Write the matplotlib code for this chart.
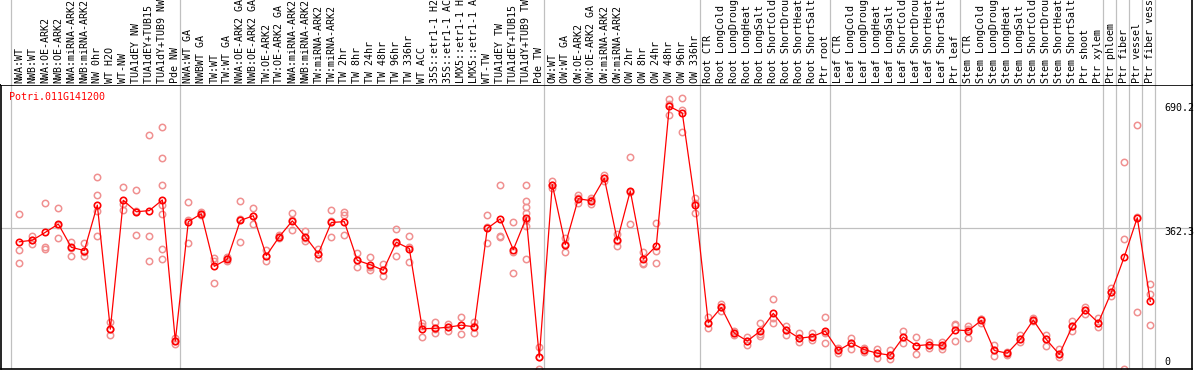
#!/usr/bin/python3

# expression.py
#
# Plot the expression profile of a single gene across the sample conditions.
import matplotlib
matplotlib.use('Agg')
import matplotlib.pyplot as plt

GENE = 'Potri.011G141200'

# Sample labels, in plot order
labels = [
  'NWA:WT', 'NWB:WT', 'NWA:OE-ARK2', 'NWB:OE-ARK2', 'NWA:miRNA-ARK2', 'NWB:miRNA-ARK2',
  'NW 0hr', 'WT H2O', 'WT-NW', 'TUA1dEY NW', 'TUA1dEY+TUB15 NW', 'TUA1dY+TUB9 NW', 'Pde NW',
  'NWA:WT GA', 'NWBWT GA', 'TW:WT', 'TW:WT GA', 'NWA:OE-ARK2 GA', 'NWB:OE-ARK2 GA',
  'TW:OE-ARK2', 'TW:OE-ARK2 GA', 'NWA:miRNA-ARK2', 'NWB:miRNA-ARK2', 'TW:miRNA-ARK2',
  'TW:miRNA-ARK2', 'TW 2hr', 'TW 8hr', 'TW 24hr', 'TW 48hr', 'TW 96hr', 'TW 336hr',
  'WT ACC', '35S::etr1-1 H2O', '35S::etr1-1 ACC', 'LMX5::etr1-1 H2O', 'LMX5::etr1-1 ACC',
  'WT-TW', 'TUA1dEY TW', 'TUA1dEY+TUB15 TW', 'TUA1dY+TUB9 TW', 'Pde TW',
  'OW:WT', 'OW:WT GA', 'OW:OE-ARK2', 'OW:OE-ARK2 GA', 'OW:miRNA-ARK2', 'OW:miRNA-ARK2',
  'OW 2hr', 'OW 8hr', 'OW 24hr', 'OW 48hr', 'OW 96hr', 'OW 336hr',
  'Root CTR', 'Root LongCold', 'Root LongDrought', 'Root LongHeat', 'Root LongSalt',
  'Root ShortCold', 'Root ShortDrought', 'Root ShortHeat', 'Root ShortSalt', 'Ptr root',
  'Leaf CTR', 'Leaf LongCold', 'Leaf LongDrought', 'Leaf LongHeat', 'Leaf LongSalt',
  'Leaf ShortCold', 'Leaf ShortDrought', 'Leaf ShortHeat', 'Leaf ShortSalt', 'Ptr leaf',
  'Stem CTR', 'Stem LongCold', 'Stem LongDrought', 'Stem LongHeat', 'Stem LongSalt',
  'Stem ShortCold', 'Stem ShortDrought', 'Stem ShortHeat', 'Stem ShortSalt', 'Ptr shoot',
  'Ptr xylem', 'Ptr phloem', 'Ptr fiber', 'Ptr vessel', 'Ptr fiber vessel']

# Mean expression per sample
means = [
  327, 331, 351, 372, 313, 305, 420, 106, 432, 403, 406, 433, 76,
  378, 398, 265, 283, 381, 393, 292, 340, 380, 340, 297, 376, 378, 280, 269, 255, 326, 310,
  107, 108, 111, 116, 112, 361, 385, 307, 388, 35,
  472, 320, 436, 431, 488, 331, 456, 283, 317, 670, 653, 421,
  122, 161, 96, 76, 101, 146, 104, 83, 87, 101,
  52, 71, 54, 45, 40, 86, 64, 67, 65, 104,
  102, 128, 52, 45, 80, 129, 80, 42, 113, 154,
  122, 199, 289, 388, 176]

# Individual replicates per sample
replicates = [
  [398, 306, 274], [341, 332, 322], [425, 315, 309], [413, 369, 336], [327, 312, 292],
  [325, 300, 290], [491, 446, 406, 341], [124, 106, 91], [466, 423, 408], [458, 405, 345],
  [597, 342, 278], [617, 539, 472, 420, 398, 310, 283], [84, 76, 68],
  [429, 381, 325], [402, 398, 394], [287, 279, 222], [288, 285, 278], [430, 386, 327],
  [413, 392, 373], [306, 292, 279], [344, 340, 336], [400, 383, 357], [354, 337, 329],
  [309, 297, 285], [408, 380, 340], [402, 394, 345], [298, 281, 262], [289, 264, 255],
  [270, 255, 241], [360, 325, 292], [341, 313, 277],
  [121, 113, 86], [123, 106, 96], [119, 112, 101], [136, 117, 94], [125, 115, 97],
  [395, 364, 323], [472, 341, 339], [378, 301, 247], [472, 431, 416, 400, 383, 367, 283],
  [62, 35, 6],
  [482, 470, 463], [337, 322, 300], [446, 438, 424], [438, 432, 423], [497, 488, 480],
  [346, 330, 316], [542, 452, 373], [300, 274, 270], [375, 304, 274], [688, 675, 649],
  [690, 660, 606], [438, 424, 401],
  [136, 121, 108], [170, 161, 151], [101, 96, 90], [86, 76, 65], [121, 93, 88],
  [182, 135, 121], [114, 104, 92], [96, 83, 73], [96, 87, 79], [136, 96, 71],
  [59, 52, 45], [84, 71, 55], [59, 54, 48], [55, 45, 34], [52, 40, 30],
  [101, 86, 71], [86, 64, 42], [73, 67, 59], [73, 64, 56], [117, 118, 77],
  [114, 107, 83], [132, 132, 121], [66, 52, 38], [48, 45, 41], [90, 80, 73],
  [134, 129, 126], [92, 80, 63], [55, 42, 35], [126, 113, 101], [163, 154, 144],
  [134, 122, 111], [211, 199, 190], [529, 333, 6], [622, 391, 150], [219, 195, 117]]

# Last sample of each group, a separator is drawn after it
group_ends = [-1, 12, 40, 52, 62, 72, 83, 84, 85, 86, 87]

# Axis markers shown on the right
yticks = [690.2, 362.3, 0]
midline = 362.3

FONT = 'DejaVu Sans Mono'
GRID = '#c0c0c0'


def main():
  W, H = 1194, 370
  figure = plt.figure(figsize=(W / 100, H / 100), dpi=100)

  # Pixel layout of the two panels
  left, right, top, split, bottom = 1, 1192, 0, 85, 369
  xlim = (-1.41, 90.21)

  plot = figure.add_axes([left / W, (H - bottom) / H, (right - left) / W, (bottom - split) / H])
  header = figure.add_axes([left / W, (H - split) / H, (right - left) / W, (split - top) / H])

  # Separators between the sample groups
  for ax in (plot, header):
    for end in group_ends:
      ax.axvline(end + 0.38, color=GRID, lw=0.9, zorder=1)
    ax.set_xlim(xlim)
    ax.set_xticks([])
    ax.set_yticks([])

  # Sample labels in the header, long ones run off the top as in the original
  header.set_ylim(0, 1)
  for spine in ('top', 'left', 'bottom'):
    header.spines[spine].set_visible(False)
  header.spines['right'].set_linewidth(1.2)
  for i, label in enumerate(labels):
    header.text(i, 2 / 85, label, rotation=90, ha='center', va='bottom',
                family=FONT, fontsize=7.2, color='black', clip_on=True)

  # Expression plot
  plot.set_ylim(5.1, 723.9)
  plot.axhline(midline, color=GRID, lw=0.9, zorder=1)
  for spine in plot.spines.values():
    spine.set_linewidth(1.2)

  for i, values in enumerate(replicates):
    plot.plot([i] * len(values), values, linestyle='none', marker='o', ms=4.6,
              mfc='none', mec='#f09090', mew=1.1, zorder=2, clip_on=True)
  plot.plot(range(len(means)), means, color='red', lw=0.9, marker='o', ms=4.6,
            mfc='none', mec='red', mew=1.2, zorder=3)

  plot.text(8.3 / (right - left), (bottom - 97) / (bottom - split), GENE,
            transform=plot.transAxes, ha='left', va='center',
            family=FONT, fontsize=7.2, color='red')

  # Value markers on the right
  positions = [108, 232, 362]
  for value, y in zip(yticks, positions):
    text = '{:g}'.format(value) if value != 0 else '0'
    plot.text((1164 - left) / (right - left), (bottom - y) / (bottom - split), text,
              transform=plot.transAxes, ha='left', va='center',
              family=FONT, fontsize=7.2, color='black')

  plt.savefig('out.png', dpi=100)
  plt.close()


if __name__ == '__main__':
  main()
